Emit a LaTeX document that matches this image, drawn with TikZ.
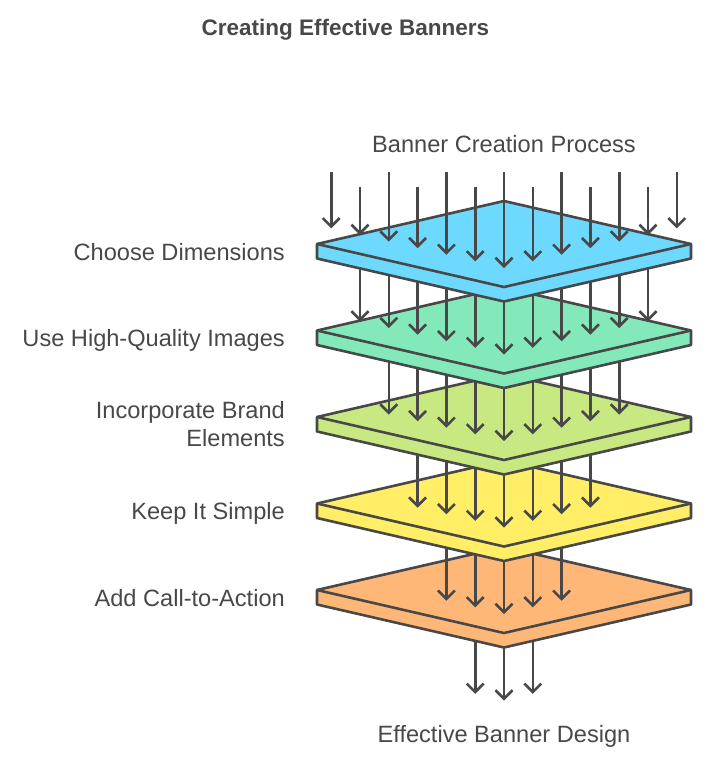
\documentclass[tikz,border=0pt]{standalone}
\usepackage{fontspec}
\setmainfont{Liberation Sans}
\usetikzlibrary{arrows.meta}

\definecolor{ink}{HTML}{484848}
\definecolor{layerA}{HTML}{6DD9FF}
\definecolor{layerB}{HTML}{84E9BA}
\definecolor{layerC}{HTML}{C8E982}
\definecolor{layerD}{HTML}{FFEE66}
\definecolor{layerE}{HTML}{FFB778}

% one slab of the stack, #1 = y of its side corners, #2 = fill
\newcommand\drawplate[2]{%
  \filldraw[plate,fill=#2] (317,#1) -- (504,#1-43) -- (691,#1) -- (691,#1+14.5)
    -- (504,#1+57.5) -- (317,#1+14.5) -- cycle;
  \draw[plate] (317,#1) -- (504,#1+43) -- (691,#1);
}

\begin{document}
\begin{tikzpicture}[x=1pt,y=-1pt,>={Straight Barb[length=8.5pt,width=17pt]},
  plate/.style={draw=ink,line width=2.6pt,line join=round},
  flow/.style={->,draw=ink,line width=2.6pt},
  side label/.style={anchor=base east,text=ink,inner sep=0pt,font=\fontsize{23.6}{28}\selectfont},
  end label/.style={anchor=base,text=ink,inner sep=0pt,font=\fontsize{23.6}{28}\selectfont},
  title label/.style={anchor=base,text=ink,inner sep=0pt,font=\fontsize{22.5}{26}\selectfont\bfseries}]

  \useasboundingbox (0,0) rectangle (707,764);

  % stack, drawn from the bottom up so upper slabs hide the lines below
  \foreach \lvl/\col in {5/white,4/layerE,3/layerD,2/layerC,1/layerB,0/layerA}{
    \ifnum\lvl<5 \drawplate{244+86.5*\lvl}{\col}\fi
    \pgfmathtruncatemacro\n{6-\lvl}
    \foreach \k in {-\n,...,\n}{
      \pgfmathsetmacro\px{504+28.8*\k}
      \pgfmathsetmacro\tip{268+86.5*\lvl-6.6*abs(\k)}
      \ifnum\lvl=0
        \ifodd\k \def\src{187}\else\def\src{172}\fi
      \else
        \pgfmathsetmacro\src{\tip-86.5}
      \fi
      \coordinate (s\lvl\k) at (\px,\src);
      \coordinate (t\lvl\k) at (\px,\tip);
      \draw[flow] (s\lvl\k) -- (t\lvl\k);
    }
  }

  \node[title label] (title) at (345.5,35) {Creating Effective Banners};
  \node[end label] (input) at (504,152) {Banner Creation Process};
  \node[end label] (output) at (504,742) {Effective Banner Design};

  \node[side label] (dims) at (285,260) {Choose Dimensions};
  \node[side label] (images) at (285,346.5) {Use High-Quality Images};
  \node[side label,anchor=east,align=right] (brand) at (285,423.6) {Incorporate Brand\\Elements};
  \node[side label] (simple) at (285,519.5) {Keep It Simple};
  \node[side label] (action) at (285,606) {Add Call-to-Action};
\end{tikzpicture}
\end{document}
